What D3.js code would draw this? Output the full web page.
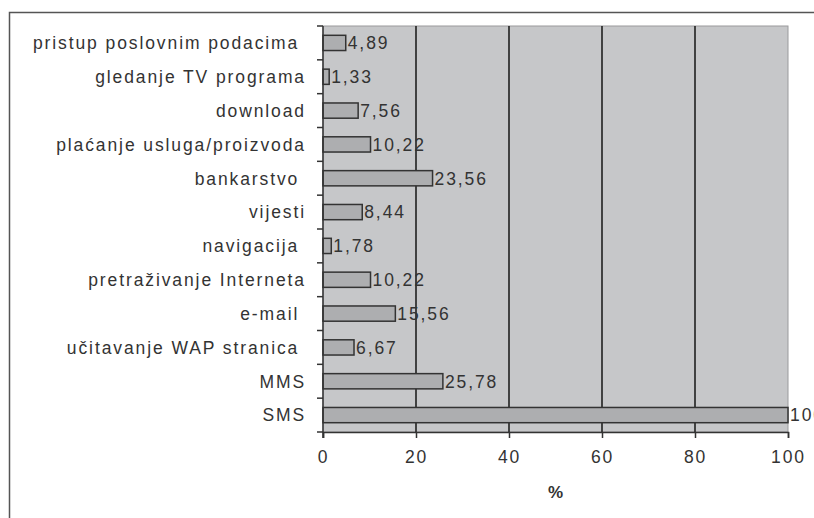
<!DOCTYPE html>
<html>
<head>
<meta charset="utf-8">
<script src="https://cdn.jsdelivr.net/npm/d3@7"></script>
<style>
  html, body { margin: 0; padding: 0; background: #fff; }
  svg { display: block; }
  text { font-family: "Liberation Sans", Arial, sans-serif; fill: #333; }
</style>
</head>
<body>
<svg id="chart" width="814" height="518"></svg>
<script>
// Usage of mobile services (%)
const categories = [
  "pristup poslovnim podacima ",
  "gledanje TV programa",
  "download",
  "plaćanje usluga/proizvoda",
  "bankarstvo ",
  "vijesti",
  "navigacija ",
  "pretraživanje Interneta",
  "e-mail ",
  "učitavanje WAP stranica ",
  "MMS",
  "SMS"
];
const values = [4.89, 1.33, 7.56, 10.22, 23.56, 8.44, 1.78, 10.22, 15.56, 6.67, 25.78, 100];
const valueLabels = ["4,89", "1,33", "7,56", "10,22", "23,56", "8,44", "1,78", "10,22", "15,56", "6,67", "25,78", "100"];
const xTicks = [0, 20, 40, 60, 80, 100];
const axisTitle = "%";

const FS = 17.5, LS = 1.9;
const svg = d3.select("#chart");
const plot = { left: 323, right: 788, top: 26, bottom: 432 };

// outer frame
svg.append("rect")
  .attr("x", 9.5).attr("y", 12.5)
  .attr("width", 820).attr("height", 520)
  .attr("fill", "none").attr("stroke", "#555").attr("stroke-width", 1.5);

const x = d3.scaleLinear().domain([0, 100]).range([plot.left, plot.right]);
const y = d3.scaleBand().domain(categories).range([plot.top, plot.bottom]).paddingInner(0.55).paddingOuter(0.275);

// plot background
svg.append("rect")
  .attr("x", plot.left).attr("y", plot.top)
  .attr("width", plot.right - plot.left).attr("height", plot.bottom - plot.top)
  .attr("fill", "#c6c7c9").attr("stroke", "#9a9a9c").attr("stroke-width", 1);

// vertical gridlines
svg.append("g").selectAll("line")
  .data(xTicks.filter(d => d > 0 && d < 100))
  .join("line")
  .attr("x1", d => x(d)).attr("x2", d => x(d))
  .attr("y1", plot.top).attr("y2", plot.bottom)
  .attr("stroke", "#2a2a2a").attr("stroke-width", 1.7);

// bars
svg.append("g").selectAll("rect")
  .data(categories)
  .join("rect")
  .attr("x", x(0))
  .attr("y", d => y(d))
  .attr("width", (d, i) => x(values[i]) - x(0))
  .attr("height", y.bandwidth())
  .attr("fill", "#adaeb0")
  .attr("stroke", "#333").attr("stroke-width", 1.5);

// value labels
svg.append("g").selectAll("text")
  .data(categories)
  .join("text")
  .attr("x", (d, i) => x(values[i]) + 2)
  .attr("y", d => y(d) + y.bandwidth() / 2)
  .attr("dy", "0.36em")
  .attr("font-size", FS)
  .attr("letter-spacing", LS)
  .text((d, i) => valueLabels[i]);

// x axis
const xAxis = d3.axisBottom(x).tickValues(xTicks).tickSize(6).tickPadding(13);
const gx = svg.append("g").attr("transform", `translate(0,${plot.bottom})`).call(xAxis);
gx.select(".domain").attr("stroke", "#333").attr("stroke-width", 1.5);
gx.selectAll(".tick line").attr("stroke", "#333").attr("stroke-width", 1.5);
gx.selectAll(".tick text")
  .attr("font-size", FS).attr("letter-spacing", LS)
  .attr("font-family", "Liberation Sans, Arial, sans-serif").attr("fill", "#333");

// y axis with ticks at category boundaries
const gy = svg.append("g");
gy.append("line")
  .attr("x1", plot.left).attr("x2", plot.left)
  .attr("y1", plot.top).attr("y2", plot.bottom + 6)
  .attr("stroke", "#333").attr("stroke-width", 1.5);
gy.selectAll("line.tk")
  .data(d3.range(categories.length + 1))
  .join("line").attr("class", "tk")
  .attr("x1", plot.left - 6).attr("x2", plot.left)
  .attr("y1", i => plot.top + i * (plot.bottom - plot.top) / categories.length)
  .attr("y2", i => plot.top + i * (plot.bottom - plot.top) / categories.length)
  .attr("stroke", "#333").attr("stroke-width", 1.5);

gy.selectAll("text")
  .data(categories)
  .join("text")
  .attr("x", 306)
  .attr("y", d => y(d) + y.bandwidth() / 2)
  .attr("dy", "0.36em")
  .attr("text-anchor", "end")
  .attr("xml:space", "preserve")
  .style("white-space", "pre")
  .attr("font-size", FS)
  .attr("letter-spacing", LS)
  .text(d => d);

// axis title
svg.append("text")
  .attr("x", (plot.left + plot.right) / 2)
  .attr("y", 498)
  .attr("text-anchor", "middle")
  .attr("font-size", 17)
  .attr("font-weight", "bold")
  .text(axisTitle);
</script>
</body>
</html>
